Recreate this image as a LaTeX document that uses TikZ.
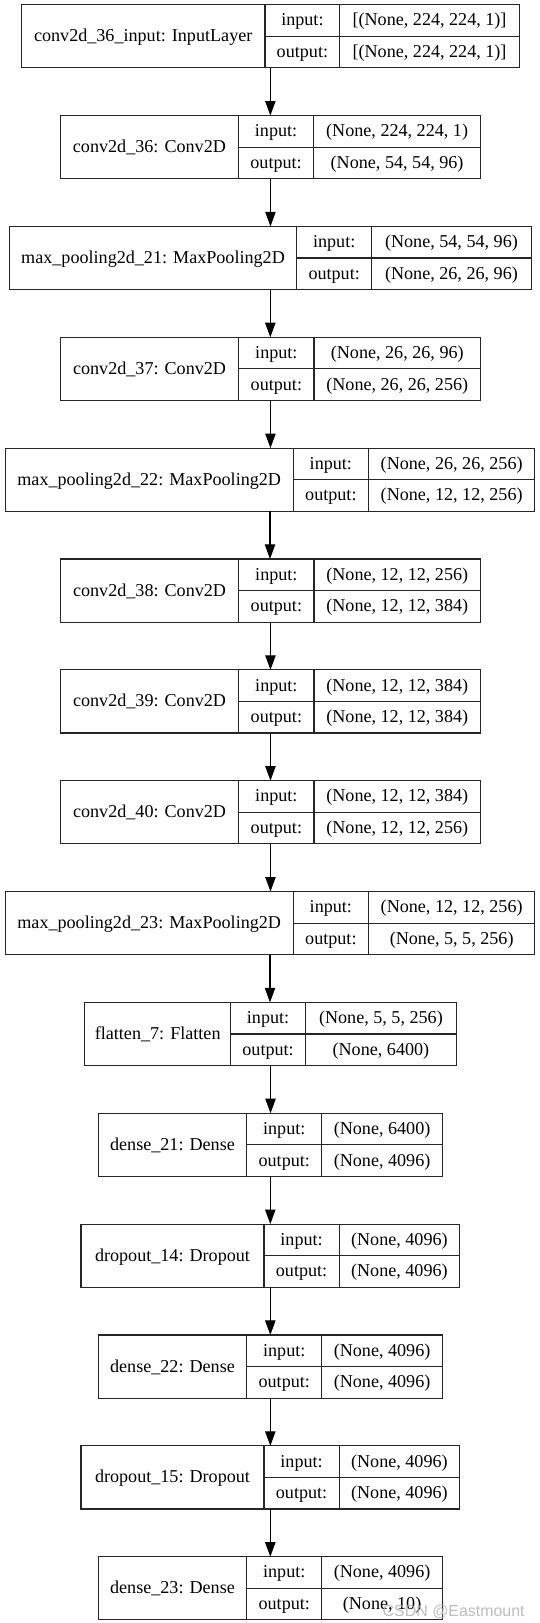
\documentclass[tikz,border=0pt]{standalone}
\usepackage{fontspec}
\setmainfont{Liberation Serif}
\newfontfamily\wmfont{Liberation Sans}
\usetikzlibrary{arrows.meta}
\newcommand{\bh}{61}
\newcommand{\bo}{5.3}
\tikzset{
  kb/.style={draw=black!85, line width=1.1pt, rectangle, inner sep=0pt, outer sep=0pt, minimum height=61pt},
  kl/.style={draw=black!85, line width=1.1pt},
  kt/.style={font=\fontsize{17.5}{20}\selectfont, anchor=base, inner sep=0pt},
  arr/.style={draw=black, line width=1pt, -{Triangle[length=14pt,width=10pt]}},
  wm/.style={font=\wmfont\fontsize{15.4}{18}\selectfont, text=black!30, opacity=0.85, anchor=base, inner sep=0pt}
}
% #1 name, #2 top, #3 left, #4 divider1, #5 divider2, #6 right, #7 label, #8 input shape, #9 output shape
\newcommand{\kbox}[9]{%
  \node[kb, minimum width={(#6-#3)*1pt}, anchor=north west] (#1) at (#3,-#2) {};
  \draw[kl] (#4,-#2) -- (#4,{-#2-\bh});
  \draw[kl] (#5,-#2) -- (#5,{-#2-\bh});
  \draw[kl] (#4,{-#2-\bh/2}) -- (#6,{-#2-\bh/2});
  \node[kt] (#1n) at ({(#3+#4)/2},{-#2-\bh/2-\bo}) {#7};
  \node[kt] (#1i) at ({(#4+#5)/2},{-#2-\bh/4-\bo}) {input:};
  \node[kt] (#1o) at ({(#4+#5)/2},{-#2-3*\bh/4-\bo}) {output:};
  \node[kt] (#1iv) at ({(#5+#6)/2},{-#2-\bh/4-\bo}) {#8};
  \node[kt] (#1ov) at ({(#5+#6)/2},{-#2-3*\bh/4-\bo}) {#9};
}
\begin{document}
\begin{tikzpicture}[x=1pt,y=1pt]
\useasboundingbox[fill=white] (0,0) rectangle (521,-1568);
\kbox{b1}{4.5}{20.7}{256}{328.3}{501.7}{conv2d\_36\_input: InputLayer}{[(None, 224, 224, 1)]}{[(None, 224, 224, 1)]}
\kbox{b2}{111.6}{58.3}{230.4}{303}{464.3}{conv2d\_36: Conv2D}{(None, 224, 224, 1)}{(None, 54, 54, 96)}
\kbox{b3}{218.7}{9}{286.7}{359}{513.3}{max\_pooling2d\_21: MaxPooling2D}{(None, 54, 54, 96)}{(None, 26, 26, 96)}
\kbox{b4}{325.8}{58.3}{230.7}{303.3}{464.3}{conv2d\_37: Conv2D}{(None, 26, 26, 96)}{(None, 26, 26, 256)}
\kbox{b5}{432.9}{5}{283.3}{356}{516.7}{max\_pooling2d\_22: MaxPooling2D}{(None, 26, 26, 256)}{(None, 12, 12, 256)}
\kbox{b6}{540.0}{58.3}{230.7}{303.3}{464.3}{conv2d\_38: Conv2D}{(None, 12, 12, 256)}{(None, 12, 12, 384)}
\kbox{b7}{647.1}{58.3}{230.7}{303.3}{464.3}{conv2d\_39: Conv2D}{(None, 12, 12, 384)}{(None, 12, 12, 384)}
\kbox{b8}{754.2}{58.3}{230.7}{303.3}{464.3}{conv2d\_40: Conv2D}{(None, 12, 12, 384)}{(None, 12, 12, 256)}
\kbox{b9}{861.3}{5}{283.3}{356}{516.7}{max\_pooling2d\_23: MaxPooling2D}{(None, 12, 12, 256)}{(None, 5, 5, 256)}
\kbox{b10}{968.4}{82}{222.7}{295.3}{440.7}{flatten\_7: Flatten}{(None, 5, 5, 256)}{(None, 6400)}
\kbox{b11}{1075.5}{95}{238.3}{311}{427.3}{dense\_21: Dense}{(None, 6400)}{(None, 4096)}
\kbox{b12}{1182.6}{78.3}{255}{327.7}{444}{dropout\_14: Dropout}{(None, 4096)}{(None, 4096)}
\kbox{b13}{1289.7}{95}{238.3}{311}{427.3}{dense\_22: Dense}{(None, 4096)}{(None, 4096)}
\kbox{b14}{1396.8}{78.3}{255}{327.7}{444}{dropout\_15: Dropout}{(None, 4096)}{(None, 4096)}
\kbox{b15}{1503.9}{95}{238.3}{311}{427.3}{dense\_23: Dense}{(None, 4096)}{(None, 10)}
\foreach \a/\b in {b1/b2,b2/b3,b3/b4,b4/b5,b5/b6,b6/b7,b7/b8,b8/b9,b9/b10,b10/b11,b11/b12,b12/b13,b13/b14,b14/b15}
  \draw[arr] (\a.south) -- (\a.south |- \b.north);
\node[wm] (wmark) at (438.3,-1561.5) {CSDN @Eastmount};
\end{tikzpicture}
\end{document}
